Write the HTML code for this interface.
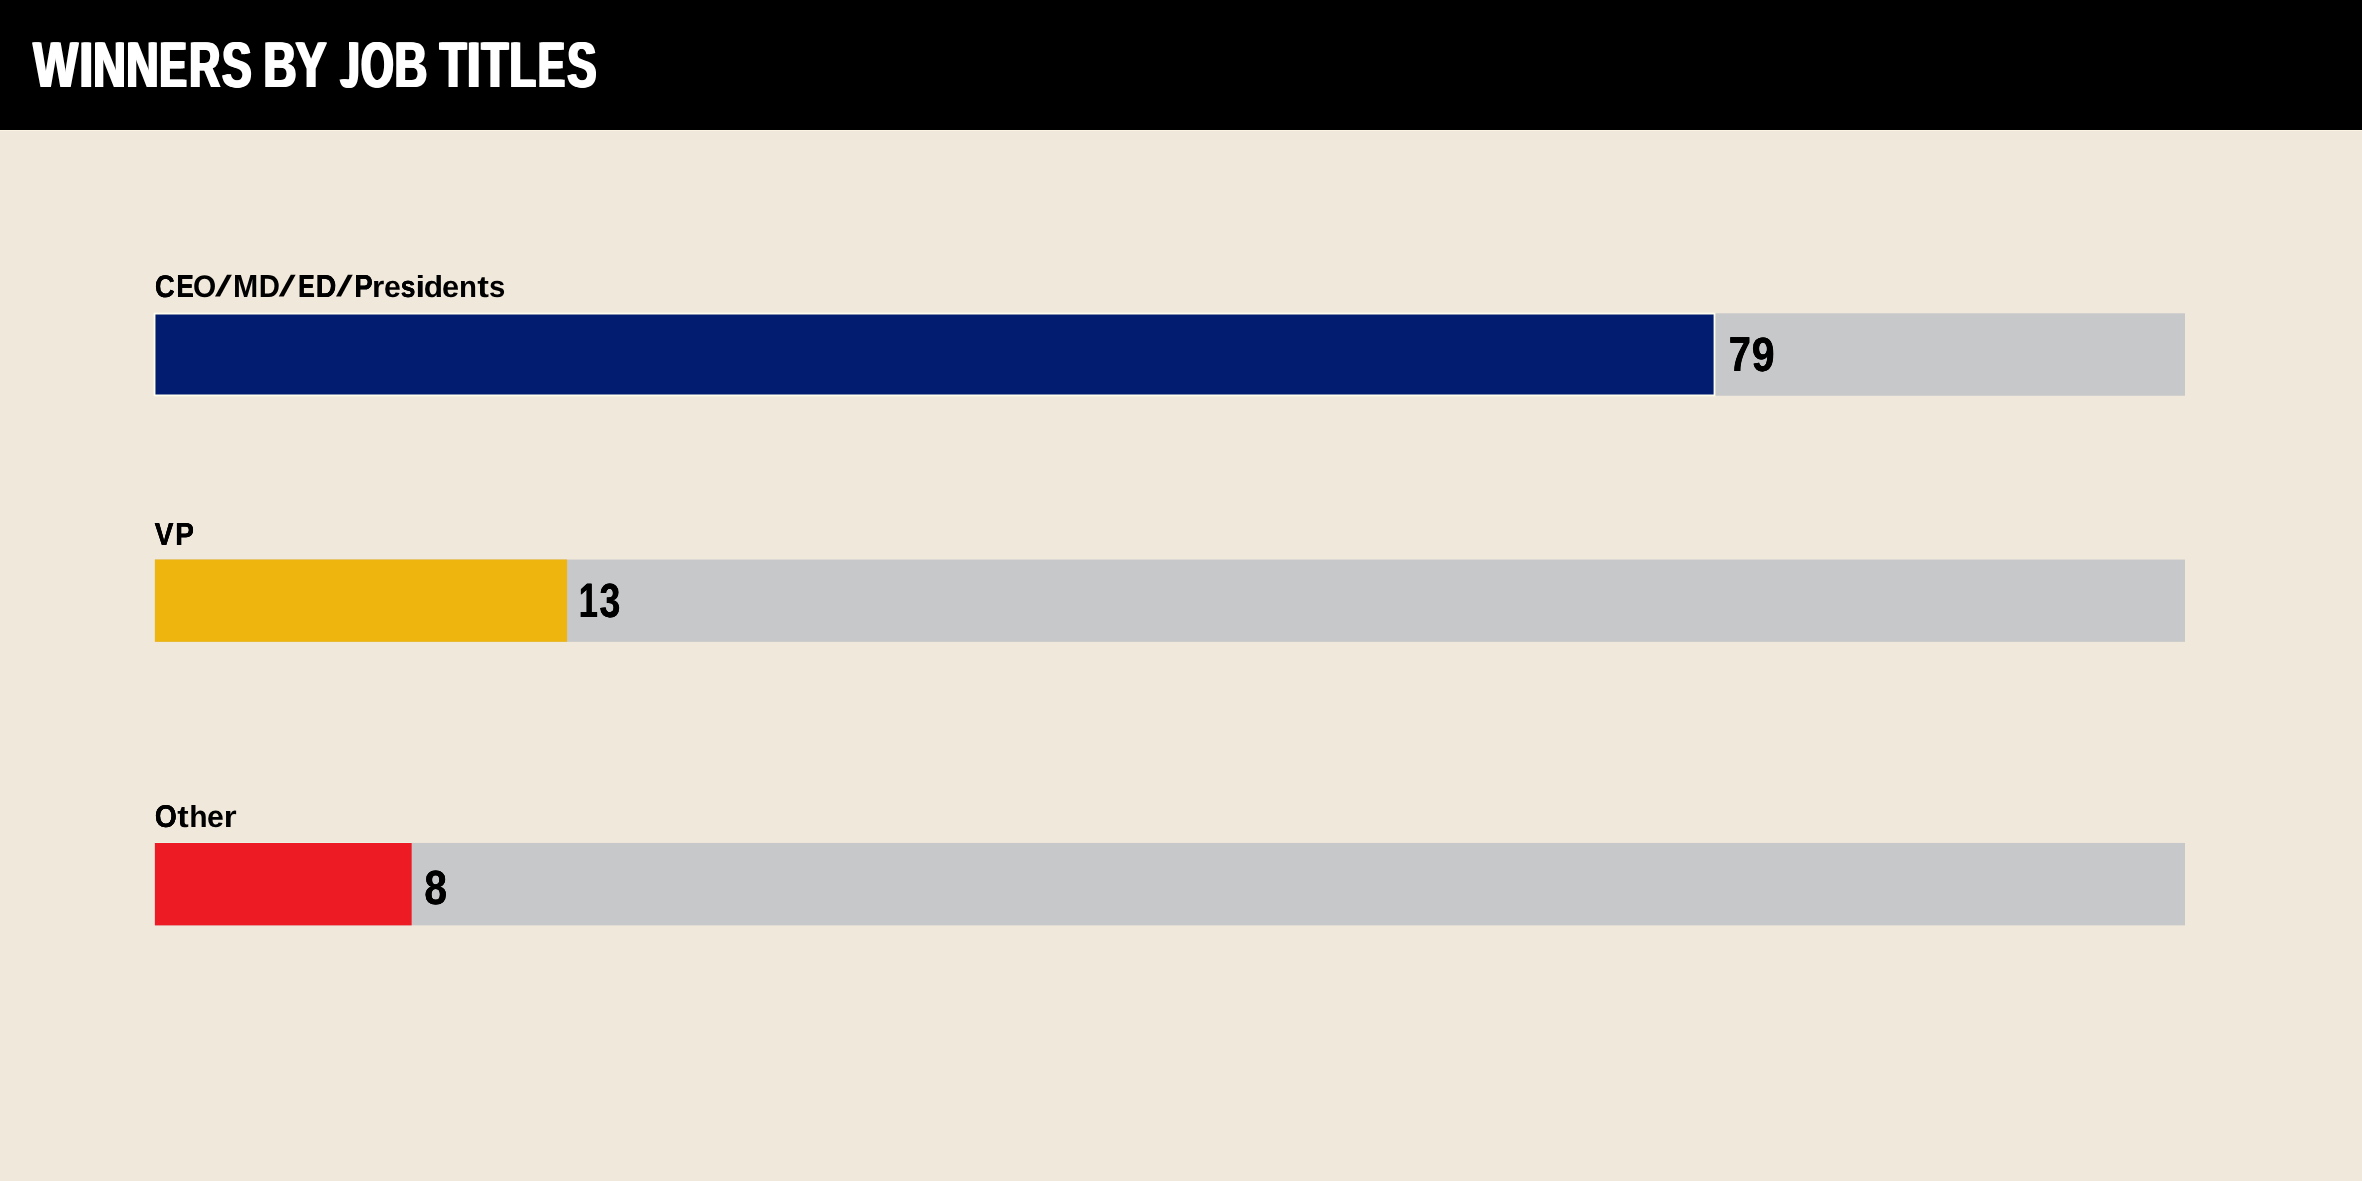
<!DOCTYPE html>
<html lang="en"><head><meta charset="utf-8"><title>Winners by job titles</title>
<style>
html,body{margin:0;padding:0;}
body{width:2362px;height:1181px;overflow:hidden;background:#f0e8da;position:relative;font-family:"Liberation Sans",sans-serif;}
.bars{position:absolute;left:0;top:0;display:block;}
.run{position:absolute;white-space:pre;font-weight:bold;line-height:0;text-rendering:geometricPrecision;will-change:transform;}
.run i{display:inline-block;width:0;vertical-align:baseline;}
.run span{display:inline-block;vertical-align:baseline;transform-origin:0 var(--bo);}
</style></head><body>
<svg class="bars" width="2362" height="1181" viewBox="0 0 2362 1181">
<rect x="0" y="0" width="2362" height="130" fill="#000"/>
<rect x="0" y="130" width="2362" height="1" fill="#fbf3e3"/>
<rect x="154.9" y="313.3" width="2030.1" height="82.45" fill="#c7c8ca"/>
<rect x="154.55" y="313.6" width="1559.95" height="81.8" fill="#021d70" stroke="#fffeed" stroke-width="1.8"/>
<rect x="154.9" y="559.55" width="2030.1" height="82.3" fill="#c7c8ca"/>
<rect x="154.9" y="559.5" width="412.17" height="82.3" fill="#eeb50f"/>
<rect x="154.9" y="842.95" width="2030.1" height="82.4" fill="#c7c8ca"/>
<rect x="154.9" y="842.95" width="256.75" height="82.4" fill="#ed1b24"/>
<rect x="154.9" y="841.95" width="256.75" height="1" fill="#eef4e4"/>
</svg>
<div class="run title" style="left:32.00px;top:-10px;font-size:64.536px;font-family:'Liberation Sans',sans-serif;color:#fff;--bo:22.0px;"><i style="height:97px"></i><span style="width:49.00px;transform:translate(1.123px,0.000px) scale(0.7380,1.0000);text-shadow:1.450px 0 0 #fff,-1.450px 0 0 #fff;">W</span><span style="width:13.00px;transform:translate(-1.793px,0.000px) scale(0.7800,1.0000);text-shadow:1.634px 0 0 #fff,-1.634px 0 0 #fff;">I</span><span style="width:34.00px;transform:translate(-0.860px,0.000px) scale(0.6982,1.0000);text-shadow:1.797px 0 0 #fff,-1.797px 0 0 #fff;">N</span><span style="width:33.00px;transform:translate(-1.728px,0.000px) scale(0.6947,1.0000);text-shadow:1.829px 0 0 #fff,-1.829px 0 0 #fff;">N</span><span style="width:29.00px;transform:translate(-1.030px,0.000px) scale(0.6168,1.0000);text-shadow:2.647px 0 0 #fff,-2.647px 0 0 #fff;">E</span><span style="width:32.00px;transform:translate(-0.616px,0.000px) scale(0.6599,1.0000);text-shadow:2.171px 0 0 #fff,-2.171px 0 0 #fff;">R</span><span style="width:29.00px;transform:translate(0.024px,0.000px) scale(0.6878,1.0000);text-shadow:1.895px 0 0 #fff,-1.895px 0 0 #fff;">S</span><span style="width:14.00px"> </span><span style="width:30.00px;transform:translate(-1.552px,0.000px) scale(0.7085,1.0000);text-shadow:1.703px 0 0 #fff,-1.703px 0 0 #fff;">B</span><span style="width:32.00px;transform:translate(0.297px,0.000px) scale(0.7309,1.0000);text-shadow:1.509px 0 0 #fff,-1.509px 0 0 #fff;">Y</span><span style="width:12.00px"> </span><span style="width:22.00px;transform:translate(1.768px,0.000px) scale(0.4857,1.0000);text-shadow:4.617px 0 0 #fff,-4.617px 0 0 #fff,2.309px 0 0 #fff,-2.309px 0 0 #fff;clip-path:polygon(17.27px -200.00px,200.00px -200.00px,200.00px 200.00px,-200.00px 200.00px,-200.00px 14.59px,17.27px 14.59px);">J</span><span style="width:35.00px;transform:translate(0.221px,0.000px) scale(0.6414,1.0000);text-shadow:2.368px 0 0 #fff,-2.368px 0 0 #fff;">O</span><span style="width:30.00px;transform:translate(-1.652px,0.000px) scale(0.7085,1.0000);text-shadow:1.703px 0 0 #fff,-1.703px 0 0 #fff;">B</span><span style="width:12.00px"> </span><span style="width:30.00px;transform:translate(1.788px,0.000px) scale(0.6723,1.0000);text-shadow:2.045px 0 0 #fff,-2.045px 0 0 #fff;">T</span><span style="width:12.00px;transform:translate(-1.243px,0.000px) scale(0.7800,1.0000);text-shadow:1.698px 0 0 #fff,-1.698px 0 0 #fff;">I</span><span style="width:31.00px;transform:translate(1.669px,0.000px) scale(0.6758,1.0000);text-shadow:2.011px 0 0 #fff,-2.011px 0 0 #fff;">T</span><span style="width:28.00px;transform:translate(-1.308px,0.000px) scale(0.6590,1.0000);text-shadow:2.180px 0 0 #fff,-2.180px 0 0 #fff;">L</span><span style="width:28.00px;transform:translate(-0.663px,0.000px) scale(0.6094,1.0000);text-shadow:2.736px 0 0 #fff,-2.736px 0 0 #fff;">E</span><span style="width:29.00px;transform:translate(0.313px,0.000px) scale(0.6742,1.0000);text-shadow:2.027px 0 0 #fff,-2.027px 0 0 #fff;">S</span></div>
<div class="run lab" style="left:155.00px;top:249px;font-size:31.832px;font-family:'Liberation Sans',sans-serif;color:#000;--bo:11.0px;"><i style="height:48px"></i><span style="width:23.00px;transform:translate(-0.079px,-0.353px) scale(0.8640,0.9762);text-shadow:0.138px 0 0 #000,-0.138px 0 0 #000;">C</span><span style="width:16.00px;transform:translate(-1.491px,0.000px) scale(0.8121,1.0000);text-shadow:0.293px 0 0 #000,-0.293px 0 0 #000;">E</span><span style="width:20.00px;transform:translate(-1.064px,-0.353px) scale(0.9377,0.9762);">O</span><span style="width:21.00px;transform:translate(0.656px,-0.686px) skewX(-15.631deg) scale(1.3136,0.9197);">/</span><span style="width:25.00px;transform:translate(-1.984px,0.000px) scale(0.9507,1.0000);">M</span><span style="width:18.00px;transform:translate(-1.163px,0.000px) scale(0.9220,1.0000);">D</span><span style="width:21.00px;transform:translate(0.606px,-0.686px) skewX(-15.631deg) scale(1.3136,0.9197);">/</span><span style="width:18.00px;transform:translate(-0.688px,0.000px) scale(0.7662,1.0000);text-shadow:0.448px 0 0 #000,-0.448px 0 0 #000;">E</span><span style="width:18.00px;transform:translate(-1.163px,0.000px) scale(0.8918,1.0000);text-shadow:0.062px 0 0 #000,-0.062px 0 0 #000;">D</span><span style="width:21.00px;transform:translate(0.681px,-0.686px) skewX(-15.241deg) scale(1.3136,0.9197);">/</span><span style="width:18.00px;transform:translate(-1.659px,0.000px) scale(0.8683,1.0000);text-shadow:0.126px 0 0 #000,-0.126px 0 0 #000;">P</span><span style="width:11.00px;transform:translate(-1.924px,0.000px) scale(0.9931,0.9550);">r</span><span style="width:16.00px;transform:translate(-1.082px,0.000px) scale(0.9504,0.9550);">e</span><span style="width:16.00px;transform:translate(-0.230px,0.000px) scale(0.8267,0.9550);text-shadow:0.248px 0 0 #000,-0.248px 0 0 #000;">s</span><span style="width:8.00px;transform:translate(-1.472px,0.000px) scale(1.0853,0.9550);">i</span><span style="width:18.00px;transform:translate(-1.248px,0.000px) scale(0.9944,0.9550);">d</span><span style="width:17.00px;transform:translate(-1.089px,0.000px) scale(0.9641,0.9550);">e</span><span style="width:17.00px;transform:translate(-1.041px,0.000px) scale(0.9251,0.9550);">n</span><span style="width:13.00px;transform:translate(0.362px,0.000px) scale(1.1005,0.9550);">t</span><span style="width:15.00px;transform:translate(-0.941px,0.000px) scale(0.9215,0.9550);">s</span></div>
<div class="run lab" style="left:154.00px;top:496px;font-size:32.123px;font-family:'Liberation Sans',sans-serif;color:#000;--bo:11.0px;"><i style="height:49px"></i><span style="width:22.00px;transform:translate(0.624px,0.000px) scale(0.8827,1.0000);text-shadow:0.179px 0 0 #000,-0.179px 0 0 #000;">V</span><span style="width:18.00px;transform:translate(-0.818px,0.000px) scale(0.8781,1.0000);text-shadow:0.192px 0 0 #000,-0.192px 0 0 #000;">P</span></div>
<div class="run lab" style="left:155.00px;top:779px;font-size:31.977px;font-family:'Liberation Sans',sans-serif;color:#000;--bo:11.0px;"><i style="height:48px"></i><span style="width:22.00px;transform:translate(-0.192px,-0.347px) scale(0.8914,0.9832);text-shadow:0.053px 0 0 #000,-0.053px 0 0 #000;">O</span><span style="width:14.00px;transform:translate(0.281px,0.000px) scale(1.0742,0.9550);">t</span><span style="width:17.00px;transform:translate(-1.799px,0.000px) scale(0.9401,0.9550);">h</span><span style="width:18.00px;transform:translate(-0.981px,0.000px) scale(0.9455,0.9550);">e</span><span style="width:11.00px;transform:translate(-2.182px,0.000px) scale(1.0353,0.9550);">r</span></div>
<div class="run num" style="left:1730.00px;top:297px;font-size:49.129px;font-family:'Liberation Sans',sans-serif;color:#000;--bo:17.0px;"><i style="height:74px"></i><span style="width:22.00px;transform:translate(-1.312px,0.000px) scale(0.8112,1.0000);text-shadow:0.247px 0 0 #000,-0.247px 0 0 #000;">7</span><span style="width:22.00px;transform:translate(-0.324px,-0.470px) scale(0.8362,0.9803);text-shadow:0.239px 0 0 #000,-0.239px 0 0 #000;">9</span></div>
<div class="run num" style="left:580.00px;top:544px;font-size:48.184px;font-family:'Liberation Sans',sans-serif;color:#000;--bo:17.0px;"><i style="height:73px"></i><span style="width:20.00px;transform:translate(-1.266px,0.000px) scale(0.7136,1.0000);text-shadow:0.280px 0 0 #000,-0.280px 0 0 #000;">1</span><span style="width:20.00px;transform:translate(-0.559px,-0.438px) scale(0.7766,0.9946);text-shadow:0.258px 0 0 #000,-0.258px 0 0 #000;">3</span></div>
<div class="run num" style="left:425.00px;top:832px;font-size:47.966px;font-family:'Liberation Sans',sans-serif;color:#000;--bo:16.5px;"><i style="height:72px"></i><span style="width:21.00px;transform:translate(-0.645px,0.333px) scale(0.8510,0.9968);text-shadow:0.235px 0 0 #000,-0.235px 0 0 #000;">8</span></div>
</body></html>
